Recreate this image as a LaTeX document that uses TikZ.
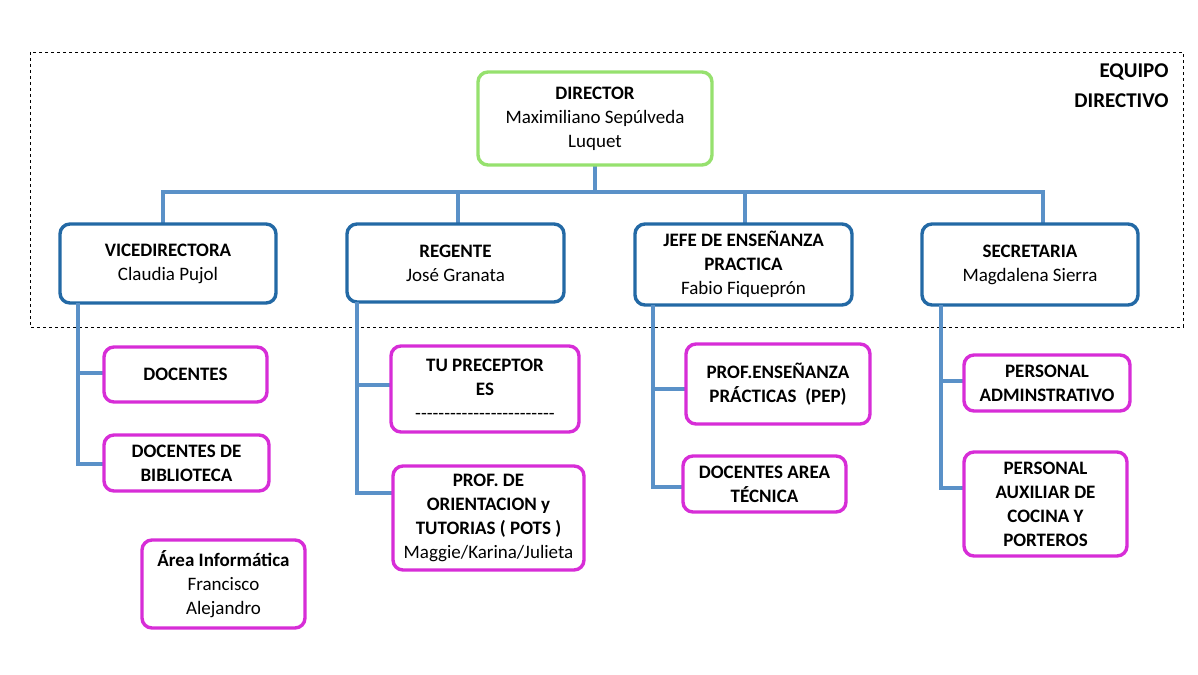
\documentclass[tikz,border=0pt]{standalone}
\usepackage{fontspec}
\setmainfont{Carlito}
\definecolor{lnblue}{RGB}{90,145,200}
\definecolor{bxblue}{RGB}{35,105,165}
\definecolor{mag}{RGB}{215,45,215}
\definecolor{grn}{RGB}{150,225,110}
\begin{document}
\begin{tikzpicture}[x=1pt,y=-1pt,
 box/.style={draw,line width=3.4pt,rounded corners=10pt,fill=white,align=center,inner sep=2pt,font=\fontsize{19}{24}\selectfont},
 bluebox/.style={box,draw=bxblue},
 magbox/.style={box,draw=mag},
 grnbox/.style={box,draw=grn},
 ln/.style={draw=lnblue,line width=3.2pt}]
\useasboundingbox (0,0) rectangle (1198,674);
\draw[dashed,line width=0.8pt] (30,52) rectangle (1183,327);
\node[align=right,anchor=north east,font=\fontsize{21}{30}\selectfont\bfseries] (eq) at (1172,60) {EQUIPO\\DIRECTIVO};
% bus
\coordinate (b1) at (163,192); \coordinate (b4) at (1043,192);
\coordinate (bd) at (595,192); \coordinate (b2) at (458,192); \coordinate (b3) at (745,192);
\draw[ln] (163,224) -- (b1) -- (b4) -- (1043,224);
\draw[ln] (bd) -- (595,165);
\draw[ln] (b2) -- (458,224);
\draw[ln] (b3) -- (745,224);
\node[grnbox,minimum width=234pt,minimum height=93pt] (dir) at (595,118.5) {\textbf{DIRECTOR}\\Maximiliano Sepúlveda\\Luquet};
\node[bluebox,minimum width=216pt,minimum height=79pt] (vice) at (168,263.5) {\textbf{VICEDIRECTORA}\\Claudia Pujol};
\node[bluebox,minimum width=217pt,minimum height=78pt] (reg) at (455.5,263) {\textbf{REGENTE}\\José Granata};
\node[bluebox,minimum width=217pt,minimum height=81pt] (jefe) at (743.5,264.5) {\textbf{JEFE DE ENSEÑANZA}\\\textbf{PRACTICA}\\Fabio Fiqueprón};
\node[bluebox,minimum width=216pt,minimum height=81pt] (sec) at (1030,264.5) {\textbf{SECRETARIA}\\Magdalena Sierra};
% children lines
\draw[ln] (78,303) -- (78,464) -- (104,464); \draw[ln] (78,373) -- (104,373);
\draw[ln] (357,302) -- (357,493) -- (393,493); \draw[ln] (357,385) -- (391,385);
\draw[ln] (653,305) -- (653,487) -- (683,487); \draw[ln] (653,389) -- (686,389);
\draw[ln] (941,305) -- (941,488) -- (964,488); \draw[ln] (941,381) -- (964,381);
\node[magbox,minimum width=163pt,minimum height=55pt] (doc) at (185.5,374.5) {\textbf{DOCENTES}};
\node[magbox,minimum width=165pt,minimum height=56pt] (bib) at (186.5,463) {\textbf{DOCENTES DE}\\\textbf{BIBLIOTECA}};
\node[magbox,minimum width=163pt,minimum height=88pt] (inf) at (223.5,584) {\textbf{Área Informática}\\Francisco\\Alejandro};
\node[magbox,minimum width=188pt,minimum height=86pt] (prec) at (485,389) {\textbf{TU PRECEPTOR}\\\textbf{ES}\\-{}-{}-{}-{}-{}-{}-{}-{}-{}-{}-{}-{}-{}-{}-{}-{}-{}-{}-{}-{}-{}-{}-{}-};
\node[magbox,minimum width=191pt,minimum height=104pt] (pots) at (488.5,518) {\textbf{PROF. DE}\\\textbf{ORIENTACION y}\\\textbf{TUTORIAS ( POTS )}\\Maggie/Karina/Julieta};
\node[magbox,minimum width=184pt,minimum height=80pt] (pep) at (778,384) {\textbf{PROF.ENSEÑANZA}\\\textbf{PRÁCTICAS \ (PEP)}};
\node[magbox,minimum width=163pt,minimum height=56pt] (dat) at (764.5,484) {\textbf{DOCENTES AREA}\\\textbf{TÉCNICA}};
\node[magbox,minimum width=166pt,minimum height=56pt] (adm) at (1047,383) {\textbf{PERSONAL}\\\textbf{ADMINSTRATIVO}};
\node[magbox,minimum width=163pt,minimum height=104pt] (aux) at (1045.5,504) {\textbf{PERSONAL}\\\textbf{AUXILIAR DE}\\\textbf{COCINA Y}\\\textbf{PORTEROS}};
\end{tikzpicture}
\end{document}
